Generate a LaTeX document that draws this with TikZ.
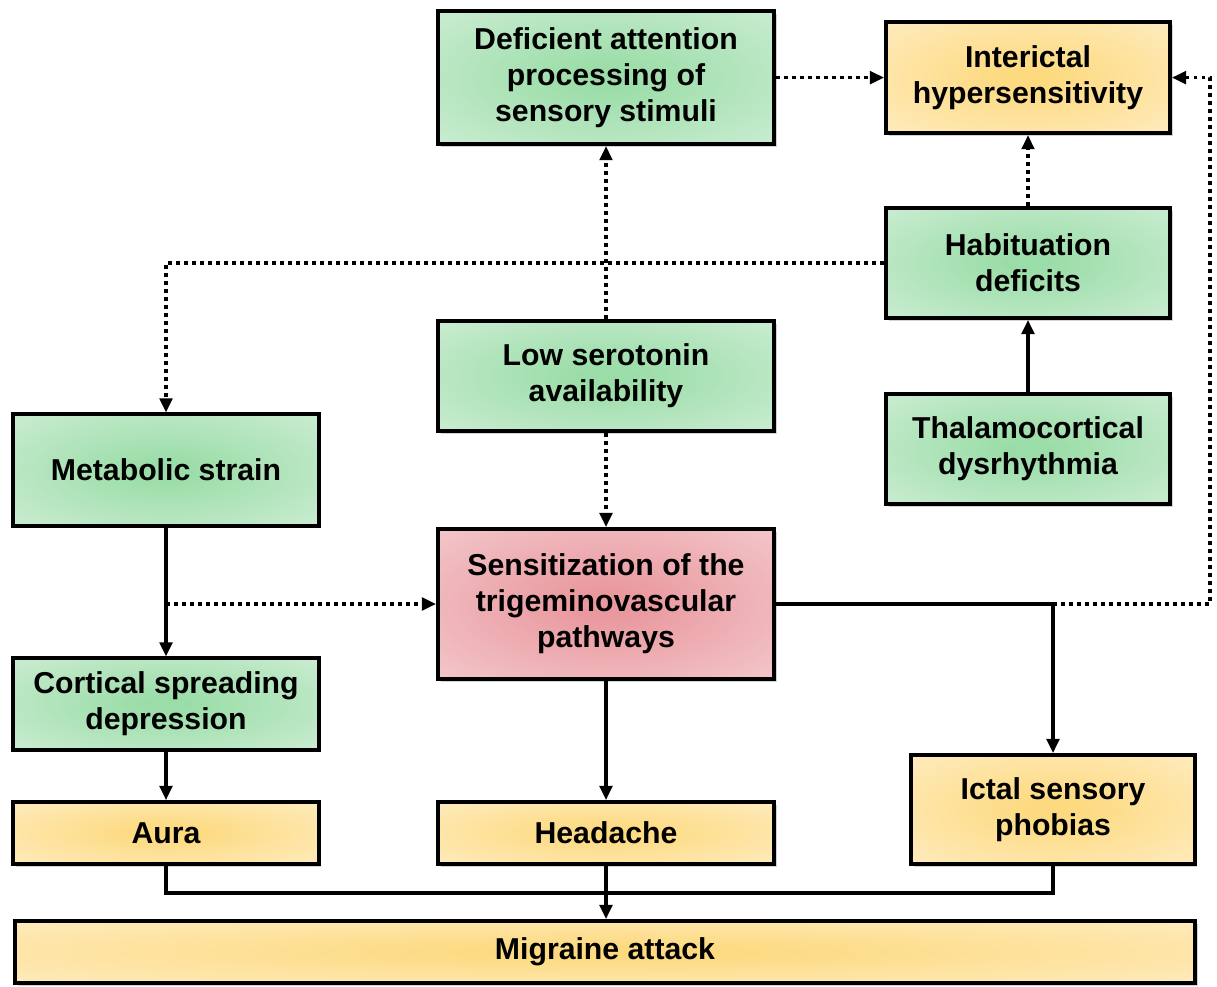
\documentclass[tikz,border=0pt]{standalone}
\usepackage{fontspec}
\setmainfont{Liberation Sans}
\usetikzlibrary{shadows, arrows.meta}

\definecolor{gcore}{RGB}{155,221,168}
\definecolor{gedge}{RGB}{224,243,228}
\definecolor{ocore}{RGB}{253,218,128}
\definecolor{oedge}{RGB}{255,243,218}
\definecolor{rcore}{RGB}{233,152,158}
\definecolor{redge}{RGB}{247,220,222}

\pgfdeclareradialshading{greenglow}{\pgfpoint{0bp}{0bp}}{color(0bp)=(gcore); color(4bp)=(gcore); color(50bp)=(gedge)}
\pgfdeclareradialshading{orangeglow}{\pgfpoint{0bp}{0bp}}{color(0bp)=(ocore); color(4bp)=(ocore); color(50bp)=(oedge)}
\pgfdeclareradialshading{redglow}{\pgfpoint{0bp}{0bp}}{color(0bp)=(rcore); color(4bp)=(rcore); color(50bp)=(redge)}

\tikzstyle{box}=[rectangle,draw=black,line width=2.8pt,text centered,align=center,font=\bfseries\fontsize{21.5}{25.5}\selectfont,drop shadow={shadow xshift=0.07cm,shadow yshift=-0.07cm,opacity=0.35}]
\tikzstyle{greenbox}=[box,shading=greenglow]
\tikzstyle{orangebox}=[box,shading=orangeglow]
\tikzstyle{redbox}=[box,shading=redglow]
\tikzstyle{solidarrow}=[line width=2.2pt,-{Triangle[length=10pt,width=9pt]}]
\tikzstyle{dotarrow}=[line width=2.2pt,-{Triangle[length=10pt,width=9pt]},dash pattern=on 0.09cm off 0.11cm]
\tikzstyle{wire}=[line width=2.2pt]

\begin{document}
\begin{tikzpicture}

\useasboundingbox (0,0) rectangle (30.425,-24.65);

\node (deficient) [greenbox,minimum width=8.4cm,minimum height=3.33cm] at (15.15,-1.94) {Deficient attention\\processing of\\sensory stimuli};
\node (interictal) [orangebox,minimum width=7.1cm,minimum height=2.78cm] at (25.7,-1.94) {Interictal\\hypersensitivity};
\node (habit) [greenbox,minimum width=7.1cm,minimum height=2.75cm] at (25.7,-6.575) {Habituation\\deficits};
\node (serotonin) [greenbox,minimum width=8.4cm,minimum height=2.75cm] at (15.15,-9.4) {Low serotonin\\availability};
\node (thalamo) [greenbox,minimum width=7.1cm,minimum height=2.75cm] at (25.7,-11.225) {Thalamocortical\\dysrhythmia};
\node (metabolic) [greenbox,minimum width=7.63cm,minimum height=2.78cm] at (4.15,-11.75) {Metabolic strain};
\node (sensit) [redbox,minimum width=8.4cm,minimum height=3.75cm] at (15.15,-15.1) {Sensitization of the\\trigeminovascular\\pathways};
\node (cortical) [greenbox,minimum width=7.63cm,minimum height=2.28cm] at (4.15,-17.6) {Cortical spreading\\depression};
\node (aura) [orangebox,minimum width=7.63cm,minimum height=1.55cm] at (4.15,-20.825) {Aura};
\node (headache) [orangebox,minimum width=8.4cm,minimum height=1.55cm] at (15.15,-20.825) {Headache};
\node (ictal) [orangebox,minimum width=7.08cm,minimum height=2.73cm] at (26.325,-20.24) {Ictal sensory\\phobias};
\node (migraine) [orangebox,minimum width=29.5cm,minimum height=1.55cm] at (15.125,-23.8) {Migraine attack};

\coordinate (split) at (4.15,-15.1);
\coordinate (fork) at (26.325,-15.1);
\coordinate (loop) at (30.25,-15.1);
\coordinate (join) at (15.15,-22.325);

\draw[dotarrow] (deficient) -- (interictal);
\draw[dotarrow] (serotonin) -- (deficient);
\draw[dotarrow] (serotonin) -- (sensit);
\draw[dotarrow] (habit) -- (interictal);
\draw[solidarrow] (thalamo) -- (habit);
\draw[dotarrow] (habit.west) -| (metabolic.north);
\draw[solidarrow] (metabolic) -- (cortical);
\draw[dotarrow] (split) -- (sensit.west);
\draw[wire] (sensit.east) -- (fork);
\draw[solidarrow] (fork) -- (ictal.north);
\draw[dotarrow] (fork) -- (loop) |- (interictal.east);
\draw[solidarrow] (cortical) -- (aura);
\draw[solidarrow] (sensit) -- (headache);
\draw[wire] (aura.south) |- (join) -| (ictal.south);
\draw[solidarrow] (headache.south) -- (headache.south |- migraine.north);
\end{tikzpicture}
\end{document}
